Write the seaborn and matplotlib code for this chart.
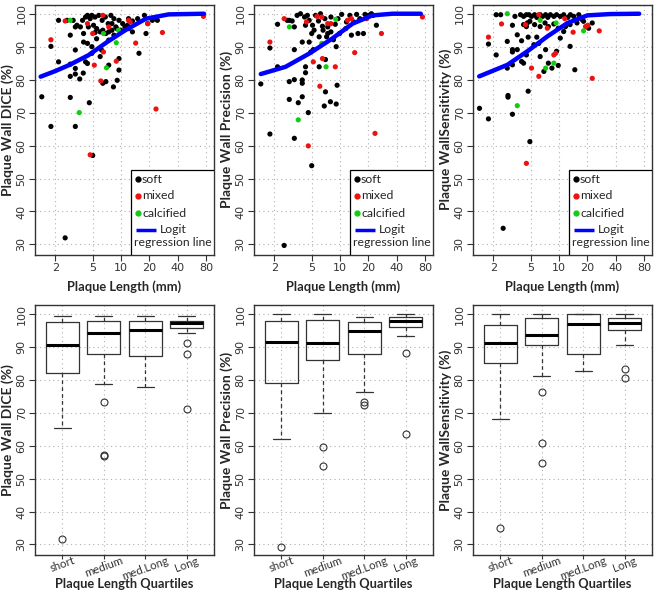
import matplotlib
matplotlib.use('Agg')
import pandas as pd
import matplotlib.pyplot as plt
from matplotlib.patches import Rectangle
import seaborn as sns

# ---------------- scatter data (plaque length mm, metric %) ----------------
dice_soft_len = [1.44, 1.8, 1.8, 2.17, 2.17, 2.89, 2.89, 2.89, 2.89, 3.27, 3.27, 3.27, 3.27, 3.27,
                 3.64, 3.7, 3.97, 4.0, 4.2, 4.4, 4.4, 4.6, 4.7, 4.9, 4.9, 5.3, 5.5, 6.0, 6.2, 6.4,
                 6.9, 7.4, 7.4, 8.0, 8.3, 9.1, 9.5, 9.5, 8.4, 13.2, 15.5, 18.4, 21.5, 24.3, 5.0, 2.55,
                 2.67, 3.1, 3.4, 3.9, 4.2, 4.4, 4.6, 4.9, 5.3, 5.8, 6.3, 6.8, 7.3, 7.8, 8.4, 8.8, 9.5,
                 10.4, 11.7, 12.0, 13.2, 15.0, 17.7, 19.2, 4.0, 4.5, 5.1, 5.5, 6.0, 6.4, 6.9, 7.4,
                 8.0, 9.0, 9.9, 11.0, 12.0]
dice_soft_val = [74.8, 65.8, 90.1, 98.0, 85.4, 93.5, 84.7, 81.0, 74.6, 96.0, 89.0, 83.4, 81.7, 65.8,
                 80.2, 96.0, 82.0, 91.4, 85.4, 84.9, 91.0, 73.0, 98.5, 88.0, 90.0, 94.3, 92.4, 87.0,
                 89.0, 78.9, 79.4, 84.4, 92.0, 97.0, 77.8, 79.8, 82.9, 86.4, 93.5, 94.5, 88.0, 94.0,
                 98.0, 98.0, 57.0, 32.0, 98.0, 98.0, 96.5, 98.0, 99.0, 99.5, 99.0, 99.5, 99.0, 99.5,
                 98.0, 99.0, 97.0, 99.5, 98.5, 96.0, 98.0, 97.0, 96.5, 98.5, 97.8, 98.5, 99.5, 97.0,
                 94.0, 96.0, 96.5, 95.5, 94.5, 95.0, 94.0, 94.5, 95.0, 95.5, 95.0, 96.0, 95.5]
dice_mixed_len = [1.8, 2.55, 5.0, 5.2, 6.1, 6.4, 6.5, 7.4, 8.9, 12.0, 14.3, 19.2, 27.5, 23.5, 4.7,
                  75.0, 4.4, 12.5]
dice_mixed_val = [92.1, 97.8, 94.0, 84.4, 79.6, 99.5, 88.4, 96.0, 85.6, 98.0, 91.1, 97.0, 94.3,
                  71.1, 57.2, 99.2, 97.0, 97.5]
dice_calc_len = [2.89, 3.6, 6.5, 7.0, 8.9, 9.4]
dice_calc_val = [98.0, 70.0, 94.0, 83.6, 91.2, 95.0]

prec_soft_len = [1.44, 1.8, 1.8, 2.17, 2.17, 2.89, 2.89, 2.89, 3.27, 3.27, 3.27, 3.27, 3.6, 3.97,
                 3.97, 3.97, 3.97, 4.3, 4.3, 4.6, 4.7, 4.9, 5.0, 5.0, 5.2, 6.0, 6.8, 7.0, 7.0, 7.9,
                 9.1, 9.3, 9.1, 8.5, 7.4, 13.2, 15.5, 17.7, 24.3, 2.55, 2.75, 3.1, 3.5, 3.8, 4.2,
                 4.5, 4.7, 5.1, 5.5, 5.9, 6.2, 6.5, 6.9, 7.4, 8.0, 8.9, 9.5, 10.4, 11.7, 12.7, 14.0,
                 15.0, 16.2, 18.4, 20.0, 21.5, 22.5, 4.3, 5.3, 6.0, 6.6, 7.2, 8.0, 9.9, 11.5]
prec_soft_val = [78.7, 63.5, 89.6, 83.9, 96.8, 74.0, 79.4, 98.0, 80.0, 89.1, 62.2, 96.0, 73.0,
                 74.8, 79.9, 78.9, 91.4, 83.9, 82.1, 70.0, 91.4, 88.4, 94.0, 53.9, 89.1, 83.9, 72.0,
                 76.3, 86.1, 73.3, 72.6, 78.3, 90.0, 92.1, 94.0, 93.5, 94.0, 94.0, 96.5, 29.7, 98.0,
                 97.8, 99.5, 100.0, 99.0, 99.5, 98.0, 96.5, 99.5, 97.8, 100.0, 96.2, 98.5, 96.0,
                 99.0, 96.8, 98.5, 99.8, 97.5, 99.5, 97.5, 99.8, 98.5, 99.8, 99.5, 100.0, 99.5, 96.5,
                 95.0, 93.0, 95.0, 93.0, 94.5, 94.0, 95.5]
prec_mixed_len = [1.8, 2.55, 4.4, 5.2, 5.7, 6.1, 6.5, 6.4, 8.0, 8.9, 12.0, 13.2, 14.3, 19.2, 27.5,
                  23.5, 4.6, 75.0, 7.4]
prec_mixed_val = [91.4, 98.5, 97.5, 85.4, 99.2, 78.0, 86.4, 99.0, 97.0, 83.9, 98.0, 98.5, 88.2,
                  98.5, 94.0, 63.7, 59.9, 99.0, 97.0]
prec_calc_len = [2.9, 3.6, 6.4, 7.1, 9.0]
prec_calc_val = [96.0, 67.8, 91.0, 83.9, 98.3]

sens_soft_len = [1.43, 1.78, 1.78, 2.15, 2.15, 2.82, 2.82, 2.87, 2.87, 3.2, 3.2, 3.2, 3.2, 3.2,
                 3.6, 3.6, 4.0, 4.0, 4.2, 4.5, 4.5, 4.7, 4.7, 4.9, 4.9, 5.4, 5.8, 6.1, 6.3, 6.9,
                 7.2, 7.7, 8.4, 9.4, 9.8, 10.3, 11.2, 13.1, 14.7, 15.5, 17.6, 20.6, 22.5, 2.55, 2.4,
                 3.4, 3.9, 4.2, 4.5, 4.8, 5.1, 5.5, 5.8, 6.3, 6.7, 7.2, 7.6, 8.1, 8.8, 9.4, 10.3,
                 11.2, 12.4, 13.2, 14.3, 16.2, 4.2, 4.6, 5.5, 6.3, 7.1, 7.7, 8.8, 9.8, 11.7, 13.1,
                 18.2]
sens_soft_val = [71.3, 68.1, 90.8, 87.5, 99.7, 91.6, 83.5, 75.2, 74.7, 96.5, 89.1, 88.4, 84.5,
                 69.5, 93.6, 89.1, 91.8, 85.5, 85.0, 96.1, 87.5, 76.5, 92.9, 97.7, 61.2, 90.6, 92.9,
                 91.0, 87.0, 82.5, 89.1, 85.0, 83.5, 88.6, 84.3, 92.6, 94.6, 90.1, 83.0, 97.2, 98.2,
                 95.6, 97.2, 34.9, 99.7, 99.2, 99.7, 99.2, 99.7, 99.7, 99.2, 99.7, 98.9, 99.7, 99.2,
                 99.7, 98.9, 99.7, 99.2, 99.7, 99.2, 99.7, 98.9, 99.7, 99.2, 99.7, 96.7, 97.2, 96.7,
                 96.1, 97.2, 96.1, 96.9, 95.6, 96.1, 96.7, 97.7]
sens_mixed_len = [1.78, 2.45, 4.4, 5.1, 6.1, 6.1, 7.5, 8.8, 11.5, 14.1, 19.1, 20.2, 26.7, 22.5, 4.5,
                  9.2]
sens_mixed_val = [92.9, 96.9, 96.7, 83.5, 99.7, 81.0, 95.6, 87.5, 98.5, 94.4, 96.1, 96.5, 94.8,
                  80.4, 54.6, 88.0]
sens_calc_len = [2.82, 3.6, 6.3, 7.2, 8.8, 9.3, 18.2]
sens_calc_val = [100.0, 72.1, 98.0, 83.5, 85.0, 97.2, 94.8]

# logit regression lines
dice_fit_len = [1.4, 2.0, 2.8, 4.5, 7.1, 11.1, 18.4, 32, 76]
dice_fit_val = [80.9, 82.6, 84.4, 87.4, 91.4, 95.0, 98.5, 99.8, 100.0]
prec_fit_len = [1.44, 2.64, 4.7, 8.2, 13.6, 22.1, 36, 72]
prec_fit_val = [81.7, 83.9, 87.9, 92.4, 97.0, 99.5, 100.0, 100.0]
sens_fit_len = [1.42, 2.83, 4.6, 7.5, 12.3, 20, 35, 71]
sens_fit_val = [81.0, 84.5, 88.6, 93.1, 97.2, 99.5, 99.9, 100.0]

# ---------------- boxplot summaries per length quartile ----------------
quartiles = ['short', 'medium', 'med.Long', 'Long']

dice_med = [90.5, 94.3, 95.2, 97.3]
dice_q1 = [82.0, 88.0, 87.2, 95.8]
dice_q3 = [97.5, 97.8, 97.8, 98.0]
dice_lo = [65.5, 78.7, 78.0, 94.2]
dice_hi = [99.5, 99.5, 99.6, 99.5]
dice_out = [[31.7], [73.2, 57.1, 57.0], [], [91.3, 88.0, 71.2]]

prec_med = [91.5, 91.3, 94.8, 98.0]
prec_q1 = [79.0, 86.0, 88.0, 96.0]
prec_q3 = [97.8, 98.3, 97.5, 99.2]
prec_lo = [62.0, 70.0, 76.3, 93.3]
prec_hi = [100.0, 100.0, 99.2, 100.0]
prec_out = [[29.3], [59.7, 53.8], [73.2, 72.3], [88.3, 63.6]]

sens_med = [91.2, 93.8, 97.0, 97.2]
sens_q1 = [85.2, 90.7, 88.0, 95.3]
sens_q3 = [96.8, 99.0, 100.0, 98.9]
sens_lo = [68.2, 81.3, 82.7, 90.5]
sens_hi = [100.0, 100.0, 100.0, 100.0]
sens_out = [[35.0], [76.5, 61.0, 54.8], [], [83.3, 80.7]]

ylabels = ['Plaque Wall DICE (%)', 'Plaque Wall Precision (%)', 'Plaque WallSensitivity (%)']
legend_labels = ['soft', 'mixed', 'calcified']

sns.set_style('ticks')
plt.rcParams['font.family'] = ['Lato', 'DejaVu Sans']
palette = {'soft': 'black', 'mixed': '#ee1111', 'calcified': '#11cc11'}

fig = plt.figure(figsize=(6.58, 5.94), dpi=100)
lefts = [35 / 658, 254 / 658, 473 / 658]
w = 179 / 658
top_axes = [fig.add_axes([l, 1 - 255 / 594, w, 250.5 / 594]) for l in lefts]
bot_axes = [fig.add_axes([l, 1 - 555 / 594, w, 250 / 594]) for l in lefts]


def style_axes(ax, ylabel):
    ax.set_ylim(26.8, 102.8)
    ax.set_yticks(range(30, 101, 10))
    ax.grid(True, linestyle=(0, (1, 3)), color='#b0b0b0', linewidth=0.8)
    ax.set_axisbelow(True)
    for s in ax.spines.values():
        s.set_color('#333333')
        s.set_linewidth(1.0)
    ax.tick_params(axis='both', direction='out', length=4, width=0.8, color='#333333',
                   labelsize=8, labelcolor='#333333', pad=2)
    ax.tick_params(axis='y', labelrotation=90)
    for t in ax.get_yticklabels():
        t.set_family('DejaVu Sans')
        t.set_va('center')
    ax.set_ylabel(ylabel, fontsize=10, fontweight='bold', labelpad=2)


def r_style_legend(ax):
    # boxed legend in the lower right corner, laid out like R's legend()
    tr = ax.transAxes
    ax.add_patch(Rectangle((0.534, 0.0), 0.466, 0.339, transform=tr, facecolor='white',
                           edgecolor='black', linewidth=0.9, zorder=10))
    rows = [0.303, 0.237, 0.166]
    for lab, yy in zip(legend_labels, rows):
        ax.plot([0.573], [yy], 'o', color=palette[lab], markersize=3.5, transform=tr,
                zorder=11, clip_on=False)
        ax.text(0.598, yy, lab, transform=tr, fontsize=8.8, va='center', ha='left', zorder=11)
    ax.plot([0.567, 0.674], [0.10, 0.10], color='#0000ff', linewidth=2.5, transform=tr,
            zorder=11, solid_capstyle='butt')
    ax.text(0.697, 0.10, 'Logit', transform=tr, fontsize=8.8, va='center', ha='left', zorder=11)
    ax.text(0.553, 0.050, 'regression line', transform=tr, fontsize=8.8, va='center',
            ha='left', zorder=11)


scatter_sets = [
    (dice_soft_len, dice_soft_val, dice_mixed_len, dice_mixed_val, dice_calc_len, dice_calc_val,
     dice_fit_len, dice_fit_val),
    (prec_soft_len, prec_soft_val, prec_mixed_len, prec_mixed_val, prec_calc_len, prec_calc_val,
     prec_fit_len, prec_fit_val),
    (sens_soft_len, sens_soft_val, sens_mixed_len, sens_mixed_val, sens_calc_len, sens_calc_val,
     sens_fit_len, sens_fit_val),
]

for ax, ylab, (sx, sy, mx, my, cx, cy, fx, fy) in zip(top_axes, ylabels, scatter_sets):
    df = pd.concat([
        pd.DataFrame({'length': sx, 'value': sy, 'type': 'soft'}),
        pd.DataFrame({'length': mx, 'value': my, 'type': 'mixed'}),
        pd.DataFrame({'length': cx, 'value': cy, 'type': 'calcified'}),
    ])
    sns.scatterplot(data=df, x='length', y='value', hue='type', palette=palette,
                    s=14, linewidth=0, legend=False, ax=ax, zorder=3)
    sns.lineplot(x=fx, y=fy, color='#0000ff', linewidth=3.2, ax=ax, zorder=4)
    ax.set_xscale('log')
    ax.set_xlim(1.22, 97)
    ax.set_xticks([2, 5, 10, 20, 40, 80])
    ax.set_xticklabels(['2', '5', '10', '20', '40', '80'])
    ax.minorticks_off()
    style_axes(ax, ylab)
    for t in ax.get_xticklabels():
        t.set_family('DejaVu Sans')
    ax.set_xlabel('Plaque Length (mm)', fontsize=9.3, fontweight='bold', va='top')
    ax.xaxis.set_label_coords(0.5, -0.1)
    r_style_legend(ax)

box_sets = [
    (dice_med, dice_q1, dice_q3, dice_lo, dice_hi, dice_out),
    (prec_med, prec_q1, prec_q3, prec_lo, prec_hi, prec_out),
    (sens_med, sens_q1, sens_q3, sens_lo, sens_hi, sens_out),
]

for ax, ylab, (med, q1, q3, lo, hi, out) in zip(bot_axes, ylabels, box_sets):
    stats = [dict(med=m, q1=a, q3=b, whislo=l, whishi=h, fliers=f, label=q)
             for m, a, b, l, h, f, q in zip(med, q1, q3, lo, hi, out, quartiles)]
    ax.bxp(stats, positions=[1, 2, 3, 4], widths=0.8, patch_artist=False,
           boxprops=dict(color='#333333', linewidth=0.9),
           medianprops=dict(color='black', linewidth=2.2),
           whiskerprops=dict(color='#333333', linewidth=0.9, linestyle=(0, (3, 2.5))),
           capprops=dict(color='#333333', linewidth=0.9),
           flierprops=dict(marker='o', markerfacecolor='none', markeredgecolor='#333333',
                           markersize=5, markeredgewidth=0.8))
    ax.set_xlim(0.34, 4.66)
    style_axes(ax, ylab)
    ax.set_xticks([1, 2, 3, 4])
    ax.set_xticklabels(quartiles, rotation=20, ha='center', fontsize=8.2)
    ax.tick_params(axis='x', length=3, pad=-3)
    ax.set_xlabel('Plaque Length Quartiles', fontsize=9.3, fontweight='bold', va='top')
    ax.xaxis.set_label_coords(0.5, -0.094)

fig.savefig('out.png', dpi=100)
